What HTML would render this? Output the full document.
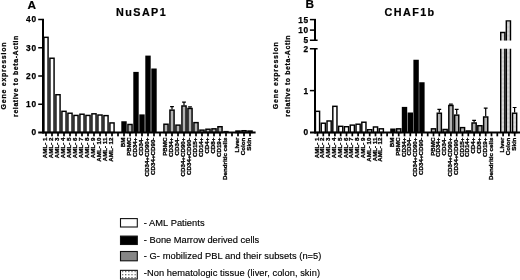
<!DOCTYPE html>
<html><head><meta charset="utf-8"><title>Figure</title>
<style>
html,body{margin:0;padding:0;background:#fff;}
body{width:520px;height:280px;overflow:hidden;}
svg{display:block;}
text{font-family:"Liberation Sans", Arial, sans-serif;fill:#000;}
.xl{font-size:6.2px;font-weight:bold;stroke:#000;stroke-width:0.3px;}
.yt{font-size:8.3px;font-weight:bold;letter-spacing:0.8px;stroke:#000;stroke-width:0.25px;}
.yl{font-size:7px;font-weight:bold;stroke:#000;stroke-width:0.25px;}
.pl{font-size:11.8px;font-weight:bold;stroke:#000;stroke-width:0.2px;}
.ti{font-size:10.8px;font-weight:bold;letter-spacing:1.4px;stroke:#000;stroke-width:0.2px;}
.lg{font-size:9.3px;stroke:#000;stroke-width:0.15px;}
</style></head><body>
<svg width="520" height="280" viewBox="0 0 520 280">
<defs>
<pattern id="dots" width="1.3" height="1.3" patternUnits="userSpaceOnUse"><rect width="1.3" height="1.3" fill="#fff"/><rect x="0.3" y="0.3" width="0.6" height="0.6" fill="#444"/></pattern>
<pattern id="dots2" x="121.9" y="270.8" width="3.17" height="3.13" patternUnits="userSpaceOnUse"><rect width="3.2" height="3.2" fill="#fff"/><rect x="0.05" y="0.1" width="1.15" height="1.1" fill="#333"/></pattern>
</defs>
<rect width="520" height="280" fill="#fff"/>
<rect x="43.92" y="37.33" width="4.15" height="95.17" fill="#fff" stroke="#000" stroke-width="1.45"/>
<rect x="49.92" y="58.23" width="4.15" height="74.28" fill="#fff" stroke="#000" stroke-width="1.45"/>
<rect x="55.92" y="94.72" width="4.15" height="37.78" fill="#fff" stroke="#000" stroke-width="1.45"/>
<rect x="61.92" y="111.32" width="4.15" height="21.18" fill="#fff" stroke="#000" stroke-width="1.45"/>
<rect x="67.92" y="113.22" width="4.15" height="19.28" fill="#fff" stroke="#000" stroke-width="1.45"/>
<rect x="73.92" y="115.42" width="4.15" height="17.08" fill="#fff" stroke="#000" stroke-width="1.45"/>
<rect x="79.92" y="114.22" width="4.15" height="18.28" fill="#fff" stroke="#000" stroke-width="1.45"/>
<rect x="85.92" y="115.42" width="4.15" height="17.08" fill="#fff" stroke="#000" stroke-width="1.45"/>
<rect x="91.92" y="113.82" width="4.15" height="18.68" fill="#fff" stroke="#000" stroke-width="1.45"/>
<rect x="97.92" y="115.02" width="4.15" height="17.48" fill="#fff" stroke="#000" stroke-width="1.45"/>
<rect x="103.92" y="115.62" width="4.15" height="16.88" fill="#fff" stroke="#000" stroke-width="1.45"/>
<rect x="109.92" y="122.92" width="4.15" height="9.58" fill="#fff" stroke="#000" stroke-width="1.45"/>
<rect x="121.30" y="121.25" width="5.4" height="11.25" fill="#000"/>
<rect x="127.92" y="124.47" width="4.15" height="8.03" fill="#b4b4b4" stroke="#000" stroke-width="1.45"/>
<rect x="133.30" y="71.90" width="5.4" height="60.60" fill="#000"/>
<rect x="139.30" y="114.40" width="5.4" height="18.10" fill="#000"/>
<rect x="145.30" y="55.60" width="5.4" height="76.90" fill="#000"/>
<rect x="151.30" y="68.50" width="5.4" height="64.00" fill="#000"/>
<rect x="163.93" y="124.22" width="4.15" height="8.28" fill="#b4b4b4" stroke="#000" stroke-width="1.45"/>
<path d="M172.00 109.40V106.60M170.10 106.60H173.90" stroke="#000" stroke-width="1.2" fill="none"/>
<rect x="169.93" y="110.12" width="4.15" height="22.38" fill="#b4b4b4" stroke="#000" stroke-width="1.45"/>
<rect x="175.93" y="125.12" width="4.15" height="7.38" fill="#b4b4b4" stroke="#000" stroke-width="1.45"/>
<path d="M184.00 105.25V102.10M182.10 102.10H185.90" stroke="#000" stroke-width="1.2" fill="none"/>
<rect x="181.93" y="105.97" width="4.15" height="26.53" fill="#b4b4b4" stroke="#000" stroke-width="1.45"/>
<path d="M190.00 107.75V106.85M188.10 106.85H191.90" stroke="#000" stroke-width="1.2" fill="none"/>
<rect x="187.93" y="108.47" width="4.15" height="24.03" fill="#b4b4b4" stroke="#000" stroke-width="1.45"/>
<rect x="193.93" y="122.62" width="4.15" height="9.88" fill="#b4b4b4" stroke="#000" stroke-width="1.45"/>
<rect x="199.93" y="130.12" width="4.15" height="2.38" fill="#b4b4b4" stroke="#000" stroke-width="1.45"/>
<rect x="205.93" y="129.22" width="4.15" height="3.28" fill="#b4b4b4" stroke="#000" stroke-width="1.45"/>
<rect x="211.93" y="128.82" width="4.15" height="3.68" fill="#b4b4b4" stroke="#000" stroke-width="1.45"/>
<rect x="217.93" y="126.72" width="4.15" height="5.78" fill="#b4b4b4" stroke="#000" stroke-width="1.45"/>
<rect x="235.93" y="131.03" width="4.15" height="1.47" fill="#ddd" stroke="#000" stroke-width="1.45"/>
<rect x="241.93" y="130.72" width="4.15" height="1.78" fill="#ddd" stroke="#000" stroke-width="1.45"/>
<rect x="247.93" y="131.03" width="4.15" height="1.47" fill="#ddd" stroke="#000" stroke-width="1.45"/>
<rect x="223.30" y="130.9" width="5.4" height="1" fill="#000"/>
<rect x="42" y="18.75" width="2" height="114.75" fill="#000"/>
<rect x="38.2" y="131.5" width="217.4" height="2" fill="#000"/>
<rect x="38.2" y="18.75" width="4" height="1.5" fill="#000"/>
<text x="36.9" y="22.45" text-anchor="end" class="yt">40</text>
<rect x="38.2" y="47.00" width="4" height="1.5" fill="#000"/>
<text x="36.9" y="50.70" text-anchor="end" class="yt">30</text>
<rect x="38.2" y="75.25" width="4" height="1.5" fill="#000"/>
<text x="36.9" y="78.95" text-anchor="end" class="yt">20</text>
<rect x="38.2" y="103.50" width="4" height="1.5" fill="#000"/>
<text x="36.9" y="107.20" text-anchor="end" class="yt">10</text>
<text x="36.9" y="135.45" text-anchor="end" class="yt">0</text>
<rect x="45.15" y="133" width="1.7" height="3.3" fill="#000"/>
<rect x="51.15" y="133" width="1.7" height="3.3" fill="#000"/>
<rect x="57.15" y="133" width="1.7" height="3.3" fill="#000"/>
<rect x="63.15" y="133" width="1.7" height="3.3" fill="#000"/>
<rect x="69.15" y="133" width="1.7" height="3.3" fill="#000"/>
<rect x="75.15" y="133" width="1.7" height="3.3" fill="#000"/>
<rect x="81.15" y="133" width="1.7" height="3.3" fill="#000"/>
<rect x="87.15" y="133" width="1.7" height="3.3" fill="#000"/>
<rect x="93.15" y="133" width="1.7" height="3.3" fill="#000"/>
<rect x="99.15" y="133" width="1.7" height="3.3" fill="#000"/>
<rect x="105.15" y="133" width="1.7" height="3.3" fill="#000"/>
<rect x="111.15" y="133" width="1.7" height="3.3" fill="#000"/>
<rect x="117.15" y="133" width="1.7" height="3.3" fill="#000"/>
<rect x="123.15" y="133" width="1.7" height="3.3" fill="#000"/>
<rect x="129.15" y="133" width="1.7" height="3.3" fill="#000"/>
<rect x="135.15" y="133" width="1.7" height="3.3" fill="#000"/>
<rect x="141.15" y="133" width="1.7" height="3.3" fill="#000"/>
<rect x="147.15" y="133" width="1.7" height="3.3" fill="#000"/>
<rect x="153.15" y="133" width="1.7" height="3.3" fill="#000"/>
<rect x="159.15" y="133" width="1.7" height="3.3" fill="#000"/>
<rect x="165.15" y="133" width="1.7" height="3.3" fill="#000"/>
<rect x="171.15" y="133" width="1.7" height="3.3" fill="#000"/>
<rect x="177.15" y="133" width="1.7" height="3.3" fill="#000"/>
<rect x="183.15" y="133" width="1.7" height="3.3" fill="#000"/>
<rect x="189.15" y="133" width="1.7" height="3.3" fill="#000"/>
<rect x="195.15" y="133" width="1.7" height="3.3" fill="#000"/>
<rect x="201.15" y="133" width="1.7" height="3.3" fill="#000"/>
<rect x="207.15" y="133" width="1.7" height="3.3" fill="#000"/>
<rect x="213.15" y="133" width="1.7" height="3.3" fill="#000"/>
<rect x="219.15" y="133" width="1.7" height="3.3" fill="#000"/>
<rect x="225.15" y="133" width="1.7" height="3.3" fill="#000"/>
<rect x="231.15" y="133" width="1.7" height="3.3" fill="#000"/>
<rect x="237.15" y="133" width="1.7" height="3.3" fill="#000"/>
<rect x="243.15" y="133" width="1.7" height="3.3" fill="#000"/>
<rect x="249.15" y="133" width="1.7" height="3.3" fill="#000"/>
<text transform="translate(47.10 137.6) rotate(-90)" text-anchor="end" class="xl">AML- 1</text>
<text transform="translate(53.10 137.6) rotate(-90)" text-anchor="end" class="xl">AML- 2</text>
<text transform="translate(59.10 137.6) rotate(-90)" text-anchor="end" class="xl">AML- 3</text>
<text transform="translate(65.10 137.6) rotate(-90)" text-anchor="end" class="xl">AML- 4</text>
<text transform="translate(71.10 137.6) rotate(-90)" text-anchor="end" class="xl">AML- 5</text>
<text transform="translate(77.10 137.6) rotate(-90)" text-anchor="end" class="xl">AML- 6</text>
<text transform="translate(83.10 137.6) rotate(-90)" text-anchor="end" class="xl">AML- 7</text>
<text transform="translate(89.10 137.6) rotate(-90)" text-anchor="end" class="xl">AML- 8</text>
<text transform="translate(95.10 137.6) rotate(-90)" text-anchor="end" class="xl">AML- 9</text>
<text transform="translate(101.10 137.6) rotate(-90)" text-anchor="end" class="xl">AML- 10</text>
<text transform="translate(107.10 137.6) rotate(-90)" text-anchor="end" class="xl">AML- 11</text>
<text transform="translate(113.10 137.6) rotate(-90)" text-anchor="end" class="xl">AML- 12</text>
<text transform="translate(125.10 137.6) rotate(-90)" text-anchor="end" class="xl">BM</text>
<text transform="translate(131.10 137.6) rotate(-90)" text-anchor="end" class="xl">PBMC</text>
<text transform="translate(137.10 137.6) rotate(-90)" text-anchor="end" class="xl">CD34+</text>
<text transform="translate(143.10 137.6) rotate(-90)" text-anchor="end" class="xl">CD34-</text>
<text transform="translate(149.10 137.6) rotate(-90)" text-anchor="end" class="xl">CD34+CD90+</text>
<text transform="translate(155.10 137.6) rotate(-90)" text-anchor="end" class="xl">CD34+CD90-</text>
<text transform="translate(167.10 137.6) rotate(-90)" text-anchor="end" class="xl">PBMC</text>
<text transform="translate(173.10 137.6) rotate(-90)" text-anchor="end" class="xl">CD34+</text>
<text transform="translate(179.10 137.6) rotate(-90)" text-anchor="end" class="xl">CD34-</text>
<text transform="translate(185.10 137.6) rotate(-90)" text-anchor="end" class="xl">CD34+CD90+</text>
<text transform="translate(191.10 137.6) rotate(-90)" text-anchor="end" class="xl">CD34+CD90-</text>
<text transform="translate(197.10 137.6) rotate(-90)" text-anchor="end" class="xl">CD15+</text>
<text transform="translate(203.10 137.6) rotate(-90)" text-anchor="end" class="xl">CD14+</text>
<text transform="translate(209.10 137.6) rotate(-90)" text-anchor="end" class="xl">CD4+</text>
<text transform="translate(215.10 137.6) rotate(-90)" text-anchor="end" class="xl">CD8+</text>
<text transform="translate(221.10 137.6) rotate(-90)" text-anchor="end" class="xl">CD19+</text>
<text transform="translate(227.10 137.6) rotate(-90)" text-anchor="end" class="xl">Dendritic cells</text>
<text transform="translate(239.10 137.6) rotate(-90)" text-anchor="end" class="xl">Liver</text>
<text transform="translate(245.10 137.6) rotate(-90)" text-anchor="end" class="xl">Colon</text>
<text transform="translate(251.10 137.6) rotate(-90)" text-anchor="end" class="xl">Skin</text>
<text x="27.6" y="8.5" class="pl">A</text>
<text x="116.1" y="15.8" class="ti">NuSAP1</text>
<text transform="translate(6.3 109.4) rotate(-90)" textLength="66.9" class="yl">Gene expression</text>
<text transform="translate(17.6 116.9) rotate(-90)" textLength="81.3" class="yl">relative to beta-Actin</text>
<rect x="315.43" y="111.32" width="4.15" height="21.18" fill="#fff" stroke="#000" stroke-width="1.45"/>
<rect x="321.23" y="123.22" width="4.15" height="9.28" fill="#fff" stroke="#000" stroke-width="1.45"/>
<rect x="327.03" y="120.97" width="4.15" height="11.53" fill="#fff" stroke="#000" stroke-width="1.45"/>
<rect x="332.82" y="106.32" width="4.15" height="26.18" fill="#fff" stroke="#000" stroke-width="1.45"/>
<rect x="338.62" y="126.32" width="4.15" height="6.18" fill="#fff" stroke="#000" stroke-width="1.45"/>
<rect x="344.43" y="126.72" width="4.15" height="5.78" fill="#fff" stroke="#000" stroke-width="1.45"/>
<rect x="350.23" y="125.12" width="4.15" height="7.38" fill="#fff" stroke="#000" stroke-width="1.45"/>
<rect x="356.03" y="124.22" width="4.15" height="8.28" fill="#fff" stroke="#000" stroke-width="1.45"/>
<rect x="361.82" y="122.22" width="4.15" height="10.28" fill="#fff" stroke="#000" stroke-width="1.45"/>
<rect x="367.62" y="129.72" width="4.15" height="2.78" fill="#fff" stroke="#000" stroke-width="1.45"/>
<rect x="373.43" y="126.97" width="4.15" height="5.53" fill="#fff" stroke="#000" stroke-width="1.45"/>
<rect x="379.23" y="128.82" width="4.15" height="3.68" fill="#fff" stroke="#000" stroke-width="1.45"/>
<rect x="390.20" y="128.50" width="5.4" height="4.00" fill="#000"/>
<rect x="396.62" y="128.82" width="4.15" height="3.68" fill="#b4b4b4" stroke="#000" stroke-width="1.45"/>
<rect x="401.80" y="106.90" width="5.4" height="25.60" fill="#000"/>
<rect x="407.60" y="112.50" width="5.4" height="20.00" fill="#000"/>
<rect x="413.40" y="59.75" width="5.4" height="72.75" fill="#000"/>
<rect x="419.20" y="82.25" width="5.4" height="50.25" fill="#000"/>
<rect x="431.43" y="128.82" width="4.15" height="3.68" fill="#b4b4b4" stroke="#000" stroke-width="1.45"/>
<path d="M439.30 112.50V109.35M437.40 109.35H441.20" stroke="#000" stroke-width="1.2" fill="none"/>
<rect x="437.23" y="113.22" width="4.15" height="19.28" fill="#b4b4b4" stroke="#000" stroke-width="1.45"/>
<rect x="443.03" y="129.47" width="4.15" height="3.03" fill="#b4b4b4" stroke="#000" stroke-width="1.45"/>
<path d="M450.90 104.75V104.10M449.00 104.10H452.80" stroke="#000" stroke-width="1.2" fill="none"/>
<rect x="448.82" y="105.47" width="4.15" height="27.03" fill="#b4b4b4" stroke="#000" stroke-width="1.45"/>
<path d="M456.70 114.40V109.35M454.80 109.35H458.60" stroke="#000" stroke-width="1.2" fill="none"/>
<rect x="454.62" y="115.12" width="4.15" height="17.38" fill="#b4b4b4" stroke="#000" stroke-width="1.45"/>
<rect x="460.43" y="127.62" width="4.15" height="4.88" fill="#b4b4b4" stroke="#000" stroke-width="1.45"/>
<rect x="466.22" y="130.97" width="4.15" height="1.53" fill="#b4b4b4" stroke="#000" stroke-width="1.45"/>
<path d="M474.10 122.25V120.35M472.20 120.35H476.00" stroke="#000" stroke-width="1.2" fill="none"/>
<rect x="472.03" y="122.97" width="4.15" height="9.53" fill="#b4b4b4" stroke="#000" stroke-width="1.45"/>
<rect x="477.82" y="125.72" width="4.15" height="6.78" fill="#b4b4b4" stroke="#000" stroke-width="1.45"/>
<path d="M485.70 116.25V108.10M483.80 108.10H487.60" stroke="#000" stroke-width="1.2" fill="none"/>
<rect x="483.62" y="116.97" width="4.15" height="15.53" fill="#b4b4b4" stroke="#000" stroke-width="1.45"/>
<path d="M514.60 112.50V107.50M512.70 107.50H516.50" stroke="#000" stroke-width="1.2" fill="none"/>
<rect x="512.52" y="113.22" width="4.15" height="19.28" fill="url(#dots)" stroke="#000" stroke-width="1.45"/>
<rect x="500.73" y="48.75" width="4.15" height="83.75" fill="url(#dots)"/>
<path d="M500.73 48.75V132.5M504.88 48.75V132.5" stroke="#000" stroke-width="1.45" fill="none"/>
<rect x="500.73" y="32.50" width="4.15" height="8.10" fill="url(#dots)"/>
<path d="M500.73 40.6V32.50H504.88V40.6" stroke="#000" stroke-width="1.45" fill="none"/>
<rect x="506.32" y="48.75" width="4.15" height="83.75" fill="url(#dots)"/>
<path d="M506.32 48.75V132.5M510.47 48.75V132.5" stroke="#000" stroke-width="1.45" fill="none"/>
<rect x="506.32" y="20.85" width="4.15" height="19.75" fill="url(#dots)"/>
<path d="M506.32 40.6V20.85H510.47V40.6" stroke="#000" stroke-width="1.45" fill="none"/>
<rect x="314" y="18.85" width="2" height="21.4" fill="#000"/>
<rect x="314" y="48.75" width="2" height="84.75" fill="#000"/>
<rect x="310" y="131.5" width="210" height="2" fill="#000"/>
<rect x="309.9" y="39.5" width="7.7" height="1.5" fill="#000"/>
<rect x="309.9" y="48.0" width="7.7" height="1.5" fill="#000"/>
<rect x="309.9" y="18.85" width="4.2" height="1.5" fill="#000"/>
<rect x="309.9" y="29.35" width="4.2" height="1.5" fill="#000"/>
<rect x="309.9" y="89.85" width="4.2" height="1.5" fill="#000"/>
<text x="309.0" y="22.55" text-anchor="end" class="yt">15</text>
<text x="309.0" y="33.05" text-anchor="end" class="yt">10</text>
<text x="309.0" y="43.20" text-anchor="end" class="yt">5</text>
<text x="309.0" y="51.70" text-anchor="end" class="yt">2</text>
<text x="309.0" y="93.55" text-anchor="end" class="yt">1</text>
<text x="309.0" y="135.45" text-anchor="end" class="yt">0</text>
<rect x="316.65" y="133" width="1.7" height="3.3" fill="#000"/>
<rect x="322.45" y="133" width="1.7" height="3.3" fill="#000"/>
<rect x="328.25" y="133" width="1.7" height="3.3" fill="#000"/>
<rect x="334.05" y="133" width="1.7" height="3.3" fill="#000"/>
<rect x="339.85" y="133" width="1.7" height="3.3" fill="#000"/>
<rect x="345.65" y="133" width="1.7" height="3.3" fill="#000"/>
<rect x="351.45" y="133" width="1.7" height="3.3" fill="#000"/>
<rect x="357.25" y="133" width="1.7" height="3.3" fill="#000"/>
<rect x="363.05" y="133" width="1.7" height="3.3" fill="#000"/>
<rect x="368.85" y="133" width="1.7" height="3.3" fill="#000"/>
<rect x="374.65" y="133" width="1.7" height="3.3" fill="#000"/>
<rect x="380.45" y="133" width="1.7" height="3.3" fill="#000"/>
<rect x="386.25" y="133" width="1.7" height="3.3" fill="#000"/>
<rect x="392.05" y="133" width="1.7" height="3.3" fill="#000"/>
<rect x="397.85" y="133" width="1.7" height="3.3" fill="#000"/>
<rect x="403.65" y="133" width="1.7" height="3.3" fill="#000"/>
<rect x="409.45" y="133" width="1.7" height="3.3" fill="#000"/>
<rect x="415.25" y="133" width="1.7" height="3.3" fill="#000"/>
<rect x="421.05" y="133" width="1.7" height="3.3" fill="#000"/>
<rect x="426.85" y="133" width="1.7" height="3.3" fill="#000"/>
<rect x="432.65" y="133" width="1.7" height="3.3" fill="#000"/>
<rect x="438.45" y="133" width="1.7" height="3.3" fill="#000"/>
<rect x="444.25" y="133" width="1.7" height="3.3" fill="#000"/>
<rect x="450.05" y="133" width="1.7" height="3.3" fill="#000"/>
<rect x="455.85" y="133" width="1.7" height="3.3" fill="#000"/>
<rect x="461.65" y="133" width="1.7" height="3.3" fill="#000"/>
<rect x="467.45" y="133" width="1.7" height="3.3" fill="#000"/>
<rect x="473.25" y="133" width="1.7" height="3.3" fill="#000"/>
<rect x="479.05" y="133" width="1.7" height="3.3" fill="#000"/>
<rect x="484.85" y="133" width="1.7" height="3.3" fill="#000"/>
<rect x="490.65" y="133" width="1.7" height="3.3" fill="#000"/>
<rect x="496.45" y="133" width="1.7" height="3.3" fill="#000"/>
<rect x="502.25" y="133" width="1.7" height="3.3" fill="#000"/>
<rect x="508.05" y="133" width="1.7" height="3.3" fill="#000"/>
<rect x="513.85" y="133" width="1.7" height="3.3" fill="#000"/>
<text transform="translate(318.60 137.6) rotate(-90)" text-anchor="end" class="xl">AML- 1</text>
<text transform="translate(324.40 137.6) rotate(-90)" text-anchor="end" class="xl">AML- 2</text>
<text transform="translate(330.20 137.6) rotate(-90)" text-anchor="end" class="xl">AML- 3</text>
<text transform="translate(336.00 137.6) rotate(-90)" text-anchor="end" class="xl">AML- 4</text>
<text transform="translate(341.80 137.6) rotate(-90)" text-anchor="end" class="xl">AML- 5</text>
<text transform="translate(347.60 137.6) rotate(-90)" text-anchor="end" class="xl">AML- 6</text>
<text transform="translate(353.40 137.6) rotate(-90)" text-anchor="end" class="xl">AML- 7</text>
<text transform="translate(359.20 137.6) rotate(-90)" text-anchor="end" class="xl">AML- 8</text>
<text transform="translate(365.00 137.6) rotate(-90)" text-anchor="end" class="xl">AML- 9</text>
<text transform="translate(370.80 137.6) rotate(-90)" text-anchor="end" class="xl">AML- 10</text>
<text transform="translate(376.60 137.6) rotate(-90)" text-anchor="end" class="xl">AML- 11</text>
<text transform="translate(382.40 137.6) rotate(-90)" text-anchor="end" class="xl">AML- 12</text>
<text transform="translate(394.00 137.6) rotate(-90)" text-anchor="end" class="xl">BM</text>
<text transform="translate(399.80 137.6) rotate(-90)" text-anchor="end" class="xl">PBMC</text>
<text transform="translate(405.60 137.6) rotate(-90)" text-anchor="end" class="xl">CD34+</text>
<text transform="translate(411.40 137.6) rotate(-90)" text-anchor="end" class="xl">CD34-</text>
<text transform="translate(417.20 137.6) rotate(-90)" text-anchor="end" class="xl">CD34+CD90+</text>
<text transform="translate(423.00 137.6) rotate(-90)" text-anchor="end" class="xl">CD34+CD90-</text>
<text transform="translate(434.60 137.6) rotate(-90)" text-anchor="end" class="xl">PBMC</text>
<text transform="translate(440.40 137.6) rotate(-90)" text-anchor="end" class="xl">CD34+</text>
<text transform="translate(446.20 137.6) rotate(-90)" text-anchor="end" class="xl">CD34-</text>
<text transform="translate(452.00 137.6) rotate(-90)" text-anchor="end" class="xl">CD34+CD90+</text>
<text transform="translate(457.80 137.6) rotate(-90)" text-anchor="end" class="xl">CD34+CD90-</text>
<text transform="translate(463.60 137.6) rotate(-90)" text-anchor="end" class="xl">CD15+</text>
<text transform="translate(469.40 137.6) rotate(-90)" text-anchor="end" class="xl">CD14+</text>
<text transform="translate(475.20 137.6) rotate(-90)" text-anchor="end" class="xl">CD4+</text>
<text transform="translate(481.00 137.6) rotate(-90)" text-anchor="end" class="xl">CD8+</text>
<text transform="translate(486.80 137.6) rotate(-90)" text-anchor="end" class="xl">CD19+</text>
<text transform="translate(492.60 137.6) rotate(-90)" text-anchor="end" class="xl">Dendritic cells</text>
<text transform="translate(504.20 137.6) rotate(-90)" text-anchor="end" class="xl">Liver</text>
<text transform="translate(510.00 137.6) rotate(-90)" text-anchor="end" class="xl">Colon</text>
<text transform="translate(515.80 137.6) rotate(-90)" text-anchor="end" class="xl">Skin</text>
<text x="305.6" y="8.45" class="pl">B</text>
<text x="384.6" y="15.8" class="ti">CHAF1b</text>
<text transform="translate(278.1 109.2) rotate(-90)" textLength="66.9" class="yl">Gene expression</text>
<text transform="translate(289.6 116.7) rotate(-90)" textLength="81.3" class="yl">relative to beta-Actin</text>
<rect x="120.5" y="218.60" width="16.8" height="8.40" fill="#fff" stroke="#111" stroke-width="1.1"/>
<text x="143.8" y="225.7" textLength="60.8" class="lg">- AML Patients</text>
<rect x="120.5" y="236.10" width="16.8" height="8.40" fill="#000" stroke="#111" stroke-width="1.1"/>
<text x="143.8" y="242.6" textLength="115.4" class="lg">- Bone Marrow derived cells</text>
<rect x="120.5" y="251.50" width="16.8" height="9.30" fill="#868686" stroke="#111" stroke-width="1.1"/>
<text x="143.8" y="259.4" textLength="177.6" class="lg">- G- mobilized PBL and their subsets (n=5)</text>
<rect x="120.5" y="270.35" width="16.8" height="8.70" fill="url(#dots2)" stroke="#111" stroke-width="1.1"/>
<text x="143.8" y="276.3" textLength="176.2" class="lg">-Non hematologic tissue (liver, colon, skin)</text>
</svg>
</body></html>
